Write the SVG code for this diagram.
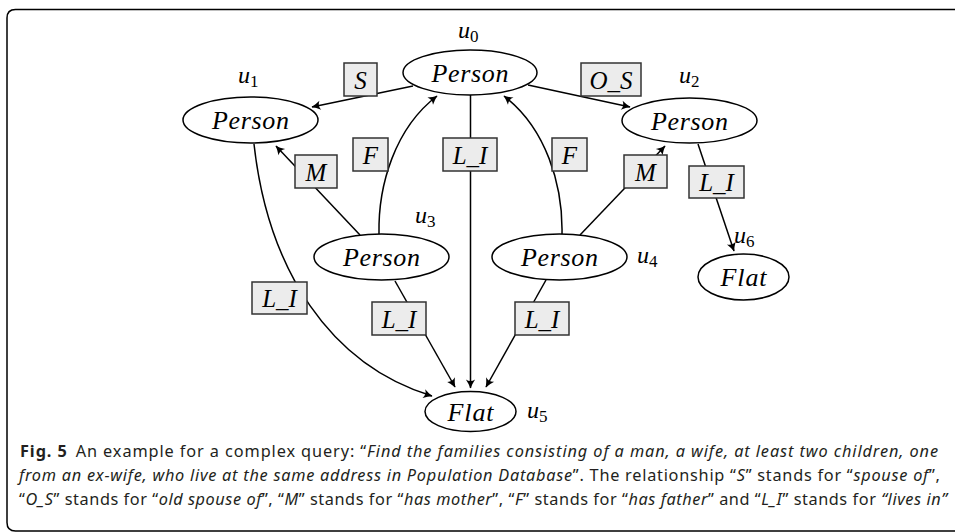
<svg xmlns="http://www.w3.org/2000/svg" width="955" height="532" viewBox="0 0 955 532">
  <defs>
    <marker id="arr" markerUnits="userSpaceOnUse" markerWidth="14" markerHeight="12" viewBox="-10 -6 12 12" refX="0" refY="0" orient="auto">
      <path d="M0.5,0 Q-4,-1.6 -8.5,-4.6 Q-5.5,0 -8.5,4.6 Q-4,1.6 0.5,0 Z" fill="#000"/>
    </marker>
    <style>
      .node ellipse { fill: #fff; stroke: #000; stroke-width: 1.5; }
      .nt { font-family: "Liberation Serif", "DejaVu Serif", serif; font-style: italic; font-size: 26px; text-anchor: middle; fill: #000; }
      .mi { font-family: "Liberation Serif", "DejaVu Serif", serif; font-style: italic; font-size: 24px; fill: #000; }
      .sb { font-family: "Liberation Serif", "DejaVu Serif", serif; font-style: normal; font-size: 17px; }
      .edge { fill: none; stroke: #000; stroke-width: 1.5; }
      .arrow { marker-end: url(#arr); }
      .lbl rect { fill: #ececec; stroke: #333; stroke-width: 1.5; }
      .lt { font-family: "Liberation Serif", "DejaVu Serif", serif; font-style: italic; font-size: 25px; text-anchor: middle; fill: #000; }
      .cap { font-family: "Noto Sans", "Open Sans", sans-serif; font-size: 16.3px; fill: #231f20; }
      .it { font-style: italic; }
    </style>
  </defs>

  <!-- frame around figure and caption -->
  <path d="M955,531 L15.5,531 Q7,531 7,522.5 L7,18 Q7,9.5 15.5,9.5 L955,9.5" fill="none" stroke="#000" stroke-width="1.5"/>

  <!-- connectors with their relation labels -->
  <g id="connectors">
    <g id="e-u0-u1">
      <path class="edge arrow" d="M413,86 L312,107"/>
      <g class="lbl"><rect x="344" y="63" width="33" height="33"/><text class="lt" x="360.5" y="88.5">S</text></g>
    </g>
    <g id="e-u0-u2">
      <path class="edge arrow" d="M528,85 L630,107"/>
      <g class="lbl"><rect x="581" y="63" width="60" height="33"/><text class="lt" x="611" y="88.5">O_S</text></g>
    </g>
    <g id="e-u3-u0">
      <path class="edge arrow" d="M379,234 C378,185 395,128 437,96"/>
      <g class="lbl"><rect x="353" y="138" width="35" height="33"/><text class="lt" x="370.5" y="163.5">F</text></g>
    </g>
    <g id="e-u4-u0">
      <path class="edge arrow" d="M562,234 C563,185 546,128 504,96"/>
      <g class="lbl"><rect x="552" y="138" width="35" height="33"/><text class="lt" x="569.5" y="163.5">F</text></g>
    </g>
    <g id="e-u3-u1">
      <path class="edge arrow" d="M360,235 L276,146"/>
      <g class="lbl"><rect x="295" y="155" width="42" height="33"/><text class="lt" x="316" y="180.5">M</text></g>
    </g>
    <g id="e-u4-u2">
      <path class="edge arrow" d="M580,235 L665,146"/>
      <g class="lbl"><rect x="624" y="155" width="43" height="33"/><text class="lt" x="645.5" y="180.5">M</text></g>
    </g>
    <g id="e-u0-u5">
      <path class="edge arrow" d="M470.5,95 L470.5,388"/>
      <g class="lbl"><rect x="443" y="138" width="54" height="33"/><text class="lt" x="470" y="163.5">L_I</text></g>
    </g>
    <g id="e-u2-u6">
      <path class="edge arrow" d="M698,144 L734,251"/>
      <g class="lbl"><rect x="689" y="166" width="55" height="32"/><text class="lt" x="716.5" y="190.5">L_I</text></g>
    </g>
    <g id="e-u1-u5">
      <path class="edge arrow" d="M254,144 C268,270 330,365 432,396"/>
      <g class="lbl"><rect x="252" y="282" width="55" height="32"/><text class="lt" x="279.5" y="306.5">L_I</text></g>
    </g>
    <g id="e-u3-u5">
      <path class="edge arrow" d="M395,281 L455,387"/>
      <g class="lbl"><rect x="372" y="302" width="54" height="33"/><text class="lt" x="399" y="327.5">L_I</text></g>
    </g>
    <g id="e-u4-u5">
      <path class="edge arrow" d="M546,280 L486,387"/>
      <g class="lbl"><rect x="515" y="302" width="54" height="33"/><text class="lt" x="542" y="327.5">L_I</text></g>
    </g>
  </g>

  <!-- nodes -->
  <g id="u0" class="node">
    <ellipse cx="470" cy="72.5" rx="67" ry="22.5"/>
    <text class="nt" x="470" y="81.5" textLength="77" lengthAdjust="spacing">Person</text>
    <text class="mi" x="458" y="38">u<tspan class="sb" dy="4">0</tspan></text>
  </g>
  <g id="u1" class="node">
    <ellipse cx="250.5" cy="120" rx="67.5" ry="23"/>
    <text class="nt" x="250.5" y="129" textLength="77" lengthAdjust="spacing">Person</text>
    <text class="mi" x="238" y="83">u<tspan class="sb" dy="4">1</tspan></text>
  </g>
  <g id="u2" class="node">
    <ellipse cx="689.5" cy="120.5" rx="67.5" ry="22.5"/>
    <text class="nt" x="689.5" y="129.5" textLength="77" lengthAdjust="spacing">Person</text>
    <text class="mi" x="679" y="83">u<tspan class="sb" dy="4">2</tspan></text>
  </g>
  <g id="u3" class="node">
    <ellipse cx="381.5" cy="257" rx="67.5" ry="23"/>
    <text class="nt" x="381.5" y="266" textLength="77" lengthAdjust="spacing">Person</text>
    <text class="mi" x="415" y="223">u<tspan class="sb" dy="4">3</tspan></text>
  </g>
  <g id="u4" class="node">
    <ellipse cx="559.5" cy="257" rx="67.5" ry="23"/>
    <text class="nt" x="559.5" y="266" textLength="77" lengthAdjust="spacing">Person</text>
    <text class="mi" x="637" y="263">u<tspan class="sb" dy="4">4</tspan></text>
  </g>
  <g id="u5" class="node">
    <ellipse cx="470.5" cy="411.5" rx="45.5" ry="20"/>
    <text class="nt" x="470.5" y="421" textLength="46" lengthAdjust="spacing">Flat</text>
    <text class="mi" x="527" y="418">u<tspan class="sb" dy="4">5</tspan></text>
  </g>
  <g id="u6" class="node">
    <ellipse cx="743.5" cy="277" rx="45.5" ry="23"/>
    <text class="nt" x="743.5" y="286" textLength="46" lengthAdjust="spacing">Flat</text>
    <text class="mi" x="734" y="243">u<tspan class="sb" dy="4">6</tspan></text>
  </g>

  <!-- caption -->
  <text class="cap" x="20" y="457" textLength="918" lengthAdjust="spacing"><tspan font-weight="bold">Fig. 5</tspan><tspan dx="8">An example for a complex query: “</tspan><tspan class="it">Find the families consisting of a man, a wife, at least two children, one</tspan></text>
  <text class="cap" x="19" y="481" textLength="921" lengthAdjust="spacing"><tspan class="it">from an ex-wife, who live at the same address in Population Database</tspan>”. The relationship “<tspan class="it">S</tspan>” stands for “<tspan class="it">spouse of</tspan>”,</text>
  <text class="cap" x="19" y="505" textLength="928" lengthAdjust="spacing">“<tspan class="it">O_S</tspan>” stands for “<tspan class="it">old spouse of</tspan>”, “<tspan class="it">M</tspan>” stands for “<tspan class="it">has mother</tspan>”, “<tspan class="it">F</tspan>” stands for “<tspan class="it">has father</tspan>” and “<tspan class="it">L_I</tspan>” stands for <tspan class="it">“lives in”</tspan></text>
</svg>
